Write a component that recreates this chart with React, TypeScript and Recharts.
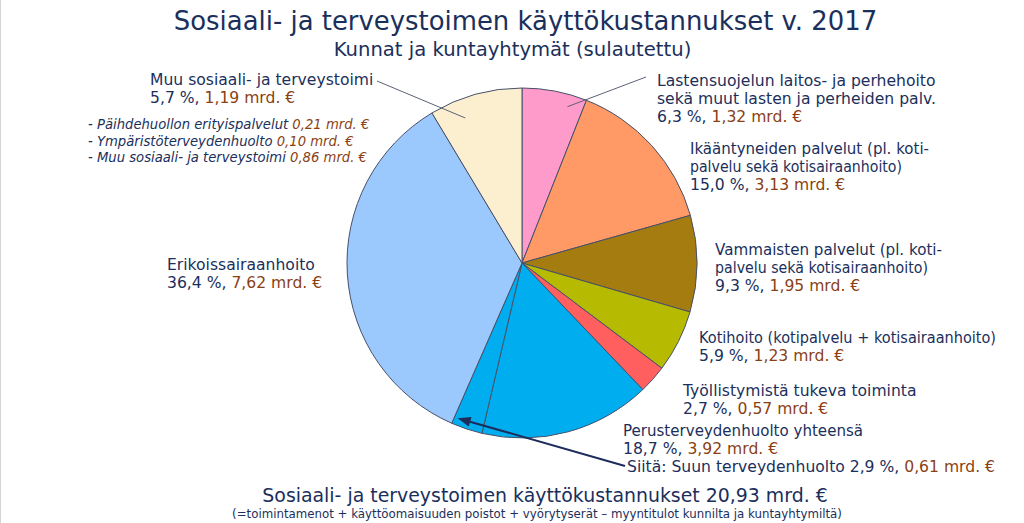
import React from 'react';
import { PieChart, Pie, Cell } from 'recharts';

// ---- Data ----
const sliceNames = [
  'Lastensuojelun laitos- ja perhehoito',
  'Ikääntyneiden palvelut',
  'Vammaisten palvelut',
  'Kotihoito',
  'Työllistymistä tukeva toiminta',
  'Perusterveydenhuolto (muu)',
  'Suun terveydenhuolto',
  'Erikoissairaanhoito',
  'Muu sosiaali- ja terveystoimi',
];
// slice sizes as drawn in the picture (%)
const sliceValues = [6.0, 14.6, 8.9, 5.75, 2.6, 15.8, 2.9, 34.8, 8.6];
const sliceColors = ['#ff9bca', '#ff9966', '#a47c10', '#b6bb02', '#ff5f5f', '#00adef', '#00adef', '#9cc9fd', '#fcefcf'];

const title = 'Sosiaali- ja terveystoimen käyttökustannukset v. 2017';
const subtitle = 'Kunnat ja kuntayhtymät (sulautettu)';
const footer = 'Sosiaali- ja terveystoimen käyttökustannukset 20,93 mrd. €';
const footnote = '(=toimintamenot + käyttöomaisuuden poistot + vyörytyserät – myyntitulot kunnilta ja kuntayhtymiltä)';

// label text: [dark part, brown part]
const labelLastensuojelu = [['Lastensuojelun laitos- ja perhehoito', ''], ['sekä muut lasten ja perheiden palv.', ''], ['6,3 %, ', '1,32 mrd. €']];
const labelIkaantyneet = [['Ikääntyneiden palvelut (pl. koti-', ''], ['palvelu sekä kotisairaanhoito)', ''], ['15,0 %, ', '3,13 mrd. €']];
const labelVammaiset = [['Vammaisten palvelut (pl. koti-', ''], ['palvelu sekä kotisairaanhoito)', ''], ['9,3 %, ', '1,95 mrd. €']];
const labelKotihoito = [['Kotihoito (kotipalvelu + kotisairaanhoito)', ''], ['5,9 %, ', '1,23 mrd. €']];
const labelTyollistyminen = [['Työllistymistä tukeva toiminta', ''], ['2,7 %, ', '0,57 mrd. €']];
const labelPerus = [['Perusterveydenhuolto yhteensä', ''], ['18,7 %, ', '3,92 mrd. €']];
const labelSuun = [['Siitä: Suun terveydenhuolto 2,9 %, ', '0,61 mrd. €']];
const labelErikois = [['Erikoissairaanhoito', ''], ['36,4 %, ', '7,62 mrd. €']];
const labelMuu = [['Muu sosiaali- ja terveystoimi', ''], ['5,7 %, ', '1,19 mrd. €']];
const labelMuuParts = [
  ['- Päihdehuollon erityispalvelut ', '0,21 mrd. €'],
  ['- Ympäristöterveydenhuolto ', '0,10 mrd. €'],
  ['- Muu sosiaali- ja terveystoimi ', '0,86 mrd. €'],
];

const data = sliceNames.map((name, i) => ({ name, value: sliceValues[i] }));

// ---- Styles ----
const FONT = '"DejaVu Sans", Verdana, sans-serif';
const DARK = '#1b2f5b';
const BROWN = '#8a3f14';
const RAD = Math.PI / 180;

const polar = (cx: number, cy: number, r: number, a: number): [number, number] => [
  cx + r * Math.cos(-a * RAD),
  cy + r * Math.sin(-a * RAD),
];

// leader lines: fraction inside sector, radius fraction, label-side end point
const leaders: Record<number, { f: number; rf: number; to: [number, number]; arrow?: boolean }> = {
  0: { f: 0.75, rf: 0.93, to: [646, 77] },
  6: { f: 0.89, rf: 0.96, to: [625, 466], arrow: true },
  8: { f: 0.31, rf: 0.89, to: [377, 81] },
};

const renderLabel = (p: any) => {
  const { cx, cy, outerRadius, index, midAngle } = p;
  const L = leaders[index];
  if (!L) return null;
  const sa = typeof p.startAngle === 'number' ? p.startAngle : midAngle;
  const ea = typeof p.endAngle === 'number' ? p.endAngle : midAngle;
  const a = sa + (ea - sa) * L.f;
  const [px, py] = polar(cx, cy, outerRadius * L.rf, a);
  const [sx, sy] = L.to;
  if (L.arrow) {
    const dx = px - sx, dy = py - sy;
    const len = Math.sqrt(dx * dx + dy * dy);
    const ux = dx / len, uy = dy / len;
    const bx = px - ux * 13, by = py - uy * 13;
    const nx = -uy, ny = ux;
    return (
      <g key={`lab-${index}`}>
        <line x1={sx} y1={sy} x2={bx + ux * 2} y2={by + uy * 2} stroke="#1c2d5c" strokeWidth={2} />
        <polygon
          points={`${px},${py} ${bx + nx * 5},${by + ny * 5} ${bx - nx * 5},${by - ny * 5}`}
          fill="#1c2d5c"
        />
      </g>
    );
  }
  return <line key={`lab-${index}`} x1={sx} y1={sy} x2={px} y2={py} stroke="#5b6275" strokeWidth={1} />;
};

function TextBlock({ x, y, lines, size, lh, italic, widths }: { x: number; y: number; lines: string[][]; size: number; lh: number; italic?: boolean; widths?: (number | null)[] }) {
  return (
    <text x={x} y={y} fontSize={size} fontFamily={FONT} fontStyle={italic ? 'italic' : 'normal'} style={{ whiteSpace: 'pre' }}>
      {lines.map((ln, i) => {
        const w = widths ? widths[i] : null;
        if (w && !ln[1]) {
          return (
            <tspan key={i} x={x} dy={i === 0 ? 0 : lh} fill={DARK} textLength={w} lengthAdjust="spacingAndGlyphs">
              {ln[0]}
            </tspan>
          );
        }
        return (
          <tspan key={i} x={x} dy={i === 0 ? 0 : lh}>
            <tspan fill={DARK}>{ln[0]}</tspan>
            {ln[1] ? <tspan fill={BROWN}>{ln[1]}</tspan> : null}
          </tspan>
        );
      })}
    </text>
  );
}

export default function App() {
  const LS = 15.6;
  const LH = 17.8;
  return (
    <div style={{ position: 'absolute', left: 0, top: 0, width: 1024, height: 523, background: '#fff', overflow: 'hidden' }}>
      <div style={{ position: 'absolute', left: 0, top: 0 }}>
        <PieChart width={1024} height={523} margin={{ top: 0, right: 0, bottom: 0, left: 0 }}>
          <Pie
            data={data}
            dataKey="value"
            nameKey="name"
            cx={522}
            cy={263}
            outerRadius={175}
            startAngle={90}
            endAngle={-270}
            stroke="#46506a"
            strokeWidth={1}
            label={renderLabel}
            labelLine={false}
            isAnimationActive={false}
          >
            {data.map((d, i) => (
              <Cell key={d.name} fill={sliceColors[i]} />
            ))}
          </Pie>
        </PieChart>
      </div>
      <svg width={1024} height={523} style={{ position: 'absolute', left: 0, top: 0, pointerEvents: 'none' }}>
        <line x1={0.5} y1={0} x2={0.5} y2={523} stroke="#d4d4d4" strokeWidth={1} />
        <text x={525.5} y={30} fontSize={25.9} fontFamily={FONT} fill={DARK} textAnchor="middle">{title}</text>
        <text x={512.5} y={56} fontSize={19.6} fontFamily={FONT} fill={DARK} textAnchor="middle">{subtitle}</text>
        <TextBlock x={657} y={86} lines={labelLastensuojelu} size={LS} lh={LH} />
        <TextBlock x={690} y={154} lines={labelIkaantyneet} size={LS} lh={LH} widths={[239, 212, null]} />
        <TextBlock x={715} y={255} lines={labelVammaiset} size={LS} lh={LH} widths={[227, 213, null]} />
        <TextBlock x={699} y={343} lines={labelKotihoito} size={LS} lh={LH} widths={[297, null]} />
        <TextBlock x={683} y={396} lines={labelTyollistyminen} size={LS} lh={LH} />
        <TextBlock x={623} y={436} lines={labelPerus} size={LS} lh={LH} widths={[240, null]} />
        <TextBlock x={627} y={472} lines={labelSuun} size={LS} lh={LH} />
        <TextBlock x={167} y={270} lines={labelErikois} size={LS} lh={LH} />
        <TextBlock x={150} y={85} lines={labelMuu} size={LS} lh={LH} />
        <TextBlock x={88} y={129} lines={labelMuuParts} size={13.2} lh={16.6} italic />
        <text x={545} y={502} fontSize={18.9} fontFamily={FONT} fill={DARK} textAnchor="middle">{footer}</text>
        <text x={537} y={518} fontSize={11.8} fontFamily={FONT} fill={DARK} textAnchor="middle">{footnote}</text>
      </svg>
    </div>
  );
}
